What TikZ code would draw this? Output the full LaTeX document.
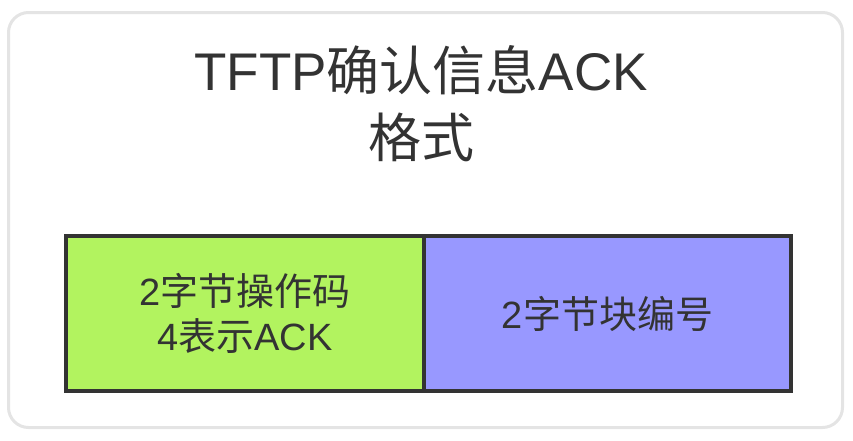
\documentclass[tikz,border=0pt]{standalone}
\usepackage{fontspec}
\setmainfont{Liberation Sans}
\newfontfamily\cjk{Noto Sans CJK SC}
\usepackage{xcolor}
\usepackage{tikz}
\usetikzlibrary{positioning}

\definecolor{cardgray}{HTML}{E4E4E4}
\definecolor{opgreen}{HTML}{B2F35F}
\definecolor{blockblue}{HTML}{9898FF}
\definecolor{edgedark}{HTML}{333333}

\begin{document}
\begin{tikzpicture}[x=1pt, y=-1pt,
  card/.style={draw=cardgray, line width=3pt, rounded corners=20pt, fill=white, minimum width=834pt, minimum height=415pt},
  title/.style={align=center, font=\fontsize{53}{67}\selectfont, text=edgedark},
  field/.style={draw=edgedark, line width=3.5pt, outer sep=0pt, minimum height=155pt, align=center, font=\fontsize{38}{45}\selectfont, text=edgedark}]
  \useasboundingbox (0,0) rectangle (853,440);
  \node[card] (card) at (425.5,220) {};
  \node[title] (title) at (421,104) {TFTP{\cjk 确认信息}ACK\\{\cjk 格式}};
  \node[field, fill=opgreen, minimum width=358pt] (opcode) at (245,313.5) {2{\cjk 字节操作码}\\4{\cjk 表示}ACK};
  \node[field, fill=blockblue, minimum width=367pt, right=0pt of opcode] (blockno) {2{\cjk 字节块编号}};
\end{tikzpicture}
\end{document}
